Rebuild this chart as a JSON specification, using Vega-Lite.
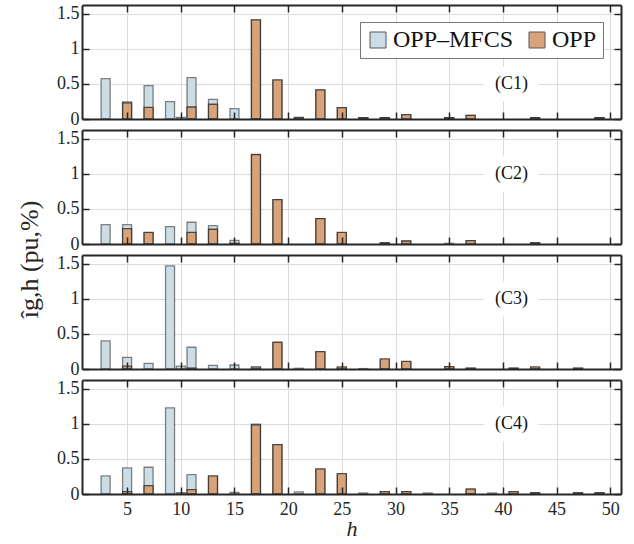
{
  "$schema": "https://vega.github.io/schema/vega-lite/v6.json",
  "background": "white",
  "padding": {"left": 16, "top": 4, "right": 2, "bottom": 0},
  "bounds": "flush",
  "spacing": 11,
  "datasets": {
    "bars": [
      {"c": "C1", "s": "OPP–MFCS", "h": 3, "v": 0.576},
      {"c": "C1", "s": "OPP–MFCS", "h": 5, "v": 0.243},
      {"c": "C1", "s": "OPP–MFCS", "h": 7, "v": 0.476},
      {"c": "C1", "s": "OPP–MFCS", "h": 9, "v": 0.248},
      {"c": "C1", "s": "OPP–MFCS", "h": 10, "v": 0.024},
      {"c": "C1", "s": "OPP–MFCS", "h": 11, "v": 0.59},
      {"c": "C1", "s": "OPP–MFCS", "h": 13, "v": 0.281},
      {"c": "C1", "s": "OPP–MFCS", "h": 15, "v": 0.148},
      {"c": "C1", "s": "OPP–MFCS", "h": 17, "v": 1.41},
      {"c": "C1", "s": "OPP–MFCS", "h": 19, "v": 0.55},
      {"c": "C1", "s": "OPP–MFCS", "h": 21, "v": 0.02},
      {"c": "C1", "s": "OPP–MFCS", "h": 23, "v": 0.41},
      {"c": "C1", "s": "OPP–MFCS", "h": 25, "v": 0.16},
      {"c": "C1", "s": "OPP–MFCS", "h": 27, "v": 0.02},
      {"c": "C1", "s": "OPP–MFCS", "h": 29, "v": 0.02},
      {"c": "C1", "s": "OPP–MFCS", "h": 31, "v": 0.06},
      {"c": "C1", "s": "OPP–MFCS", "h": 35, "v": 0.02},
      {"c": "C1", "s": "OPP–MFCS", "h": 37, "v": 0.05},
      {"c": "C1", "s": "OPP–MFCS", "h": 43, "v": 0.02},
      {"c": "C1", "s": "OPP–MFCS", "h": 49, "v": 0.02},
      {"c": "C1", "s": "OPP", "h": 5, "v": 0.229},
      {"c": "C1", "s": "OPP", "h": 7, "v": 0.167},
      {"c": "C1", "s": "OPP", "h": 11, "v": 0.171},
      {"c": "C1", "s": "OPP", "h": 13, "v": 0.21},
      {"c": "C1", "s": "OPP", "h": 17, "v": 1.414},
      {"c": "C1", "s": "OPP", "h": 19, "v": 0.557},
      {"c": "C1", "s": "OPP", "h": 21, "v": 0.024},
      {"c": "C1", "s": "OPP", "h": 23, "v": 0.414},
      {"c": "C1", "s": "OPP", "h": 25, "v": 0.162},
      {"c": "C1", "s": "OPP", "h": 27, "v": 0.02},
      {"c": "C1", "s": "OPP", "h": 29, "v": 0.02},
      {"c": "C1", "s": "OPP", "h": 31, "v": 0.062},
      {"c": "C1", "s": "OPP", "h": 35, "v": 0.02},
      {"c": "C1", "s": "OPP", "h": 37, "v": 0.052},
      {"c": "C1", "s": "OPP", "h": 43, "v": 0.02},
      {"c": "C1", "s": "OPP", "h": 49, "v": 0.02},
      {"c": "C2", "s": "OPP–MFCS", "h": 3, "v": 0.276},
      {"c": "C2", "s": "OPP–MFCS", "h": 5, "v": 0.276},
      {"c": "C2", "s": "OPP–MFCS", "h": 7, "v": 0.16},
      {"c": "C2", "s": "OPP–MFCS", "h": 9, "v": 0.248},
      {"c": "C2", "s": "OPP–MFCS", "h": 11, "v": 0.31},
      {"c": "C2", "s": "OPP–MFCS", "h": 13, "v": 0.262},
      {"c": "C2", "s": "OPP–MFCS", "h": 15, "v": 0.052},
      {"c": "C2", "s": "OPP–MFCS", "h": 17, "v": 1.27},
      {"c": "C2", "s": "OPP–MFCS", "h": 19, "v": 0.63},
      {"c": "C2", "s": "OPP–MFCS", "h": 23, "v": 0.36},
      {"c": "C2", "s": "OPP–MFCS", "h": 25, "v": 0.16},
      {"c": "C2", "s": "OPP–MFCS", "h": 29, "v": 0.02},
      {"c": "C2", "s": "OPP–MFCS", "h": 31, "v": 0.04},
      {"c": "C2", "s": "OPP–MFCS", "h": 35, "v": 0.01},
      {"c": "C2", "s": "OPP–MFCS", "h": 37, "v": 0.045},
      {"c": "C2", "s": "OPP–MFCS", "h": 43, "v": 0.02},
      {"c": "C2", "s": "OPP", "h": 5, "v": 0.219},
      {"c": "C2", "s": "OPP", "h": 7, "v": 0.167},
      {"c": "C2", "s": "OPP", "h": 11, "v": 0.167},
      {"c": "C2", "s": "OPP", "h": 13, "v": 0.21},
      {"c": "C2", "s": "OPP", "h": 15, "v": 0.01},
      {"c": "C2", "s": "OPP", "h": 17, "v": 1.276},
      {"c": "C2", "s": "OPP", "h": 19, "v": 0.633},
      {"c": "C2", "s": "OPP", "h": 23, "v": 0.362},
      {"c": "C2", "s": "OPP", "h": 25, "v": 0.167},
      {"c": "C2", "s": "OPP", "h": 29, "v": 0.015},
      {"c": "C2", "s": "OPP", "h": 31, "v": 0.043},
      {"c": "C2", "s": "OPP", "h": 37, "v": 0.048},
      {"c": "C2", "s": "OPP", "h": 43, "v": 0.015},
      {"c": "C3", "s": "OPP–MFCS", "h": 3, "v": 0.4},
      {"c": "C3", "s": "OPP–MFCS", "h": 5, "v": 0.167},
      {"c": "C3", "s": "OPP–MFCS", "h": 7, "v": 0.081},
      {"c": "C3", "s": "OPP–MFCS", "h": 9, "v": 1.471},
      {"c": "C3", "s": "OPP–MFCS", "h": 10, "v": 0.04},
      {"c": "C3", "s": "OPP–MFCS", "h": 11, "v": 0.31},
      {"c": "C3", "s": "OPP–MFCS", "h": 13, "v": 0.052},
      {"c": "C3", "s": "OPP–MFCS", "h": 15, "v": 0.057},
      {"c": "C3", "s": "OPP–MFCS", "h": 17, "v": 0.02},
      {"c": "C3", "s": "OPP–MFCS", "h": 19, "v": 0.37},
      {"c": "C3", "s": "OPP–MFCS", "h": 21, "v": 0.01},
      {"c": "C3", "s": "OPP–MFCS", "h": 23, "v": 0.24},
      {"c": "C3", "s": "OPP–MFCS", "h": 25, "v": 0.02},
      {"c": "C3", "s": "OPP–MFCS", "h": 27, "v": 0.006},
      {"c": "C3", "s": "OPP–MFCS", "h": 29, "v": 0.13},
      {"c": "C3", "s": "OPP–MFCS", "h": 31, "v": 0.1},
      {"c": "C3", "s": "OPP–MFCS", "h": 35, "v": 0.03},
      {"c": "C3", "s": "OPP–MFCS", "h": 37, "v": 0.014},
      {"c": "C3", "s": "OPP–MFCS", "h": 41, "v": 0.014},
      {"c": "C3", "s": "OPP–MFCS", "h": 43, "v": 0.02},
      {"c": "C3", "s": "OPP–MFCS", "h": 47, "v": 0.014},
      {"c": "C3", "s": "OPP", "h": 5, "v": 0.04},
      {"c": "C3", "s": "OPP", "h": 11, "v": 0.014},
      {"c": "C3", "s": "OPP", "h": 17, "v": 0.029},
      {"c": "C3", "s": "OPP", "h": 19, "v": 0.381},
      {"c": "C3", "s": "OPP", "h": 23, "v": 0.248},
      {"c": "C3", "s": "OPP", "h": 25, "v": 0.03},
      {"c": "C3", "s": "OPP", "h": 29, "v": 0.143},
      {"c": "C3", "s": "OPP", "h": 31, "v": 0.11},
      {"c": "C3", "s": "OPP", "h": 35, "v": 0.033},
      {"c": "C3", "s": "OPP", "h": 37, "v": 0.01},
      {"c": "C3", "s": "OPP", "h": 41, "v": 0.01},
      {"c": "C3", "s": "OPP", "h": 43, "v": 0.029},
      {"c": "C3", "s": "OPP", "h": 47, "v": 0.01},
      {"c": "C4", "s": "OPP–MFCS", "h": 3, "v": 0.257},
      {"c": "C4", "s": "OPP–MFCS", "h": 5, "v": 0.371},
      {"c": "C4", "s": "OPP–MFCS", "h": 7, "v": 0.381},
      {"c": "C4", "s": "OPP–MFCS", "h": 9, "v": 1.229},
      {"c": "C4", "s": "OPP–MFCS", "h": 10, "v": 0.02},
      {"c": "C4", "s": "OPP–MFCS", "h": 11, "v": 0.276},
      {"c": "C4", "s": "OPP–MFCS", "h": 13, "v": 0.25},
      {"c": "C4", "s": "OPP–MFCS", "h": 15, "v": 0.024},
      {"c": "C4", "s": "OPP–MFCS", "h": 17, "v": 0.995},
      {"c": "C4", "s": "OPP–MFCS", "h": 19, "v": 0.7},
      {"c": "C4", "s": "OPP–MFCS", "h": 21, "v": 0.029},
      {"c": "C4", "s": "OPP–MFCS", "h": 23, "v": 0.35},
      {"c": "C4", "s": "OPP–MFCS", "h": 25, "v": 0.28},
      {"c": "C4", "s": "OPP–MFCS", "h": 27, "v": 0.014},
      {"c": "C4", "s": "OPP–MFCS", "h": 29, "v": 0.03},
      {"c": "C4", "s": "OPP–MFCS", "h": 31, "v": 0.03},
      {"c": "C4", "s": "OPP–MFCS", "h": 33, "v": 0.014},
      {"c": "C4", "s": "OPP–MFCS", "h": 37, "v": 0.06},
      {"c": "C4", "s": "OPP–MFCS", "h": 39, "v": 0.014},
      {"c": "C4", "s": "OPP–MFCS", "h": 41, "v": 0.03},
      {"c": "C4", "s": "OPP–MFCS", "h": 43, "v": 0.02},
      {"c": "C4", "s": "OPP–MFCS", "h": 47, "v": 0.02},
      {"c": "C4", "s": "OPP–MFCS", "h": 49, "v": 0.02},
      {"c": "C4", "s": "OPP", "h": 5, "v": 0.033},
      {"c": "C4", "s": "OPP", "h": 7, "v": 0.119},
      {"c": "C4", "s": "OPP", "h": 11, "v": 0.062},
      {"c": "C4", "s": "OPP", "h": 13, "v": 0.257},
      {"c": "C4", "s": "OPP", "h": 17, "v": 0.986},
      {"c": "C4", "s": "OPP", "h": 19, "v": 0.705},
      {"c": "C4", "s": "OPP", "h": 23, "v": 0.357},
      {"c": "C4", "s": "OPP", "h": 25, "v": 0.29},
      {"c": "C4", "s": "OPP", "h": 29, "v": 0.033},
      {"c": "C4", "s": "OPP", "h": 31, "v": 0.033},
      {"c": "C4", "s": "OPP", "h": 37, "v": 0.071},
      {"c": "C4", "s": "OPP", "h": 41, "v": 0.033},
      {"c": "C4", "s": "OPP", "h": 43, "v": 0.015},
      {"c": "C4", "s": "OPP", "h": 47, "v": 0.015},
      {"c": "C4", "s": "OPP", "h": 49, "v": 0.015}
    ]
  },
  "config": {
    "view": {"stroke": null},
    "font": "Liberation Serif",
    "scale": {"continuousPadding": 0},
    "axis": {
      "labelFont": "Liberation Serif", "labelFontSize": 18, "labelColor": "#262626",
      "titleFont": "Liberation Serif", "titleFontWeight": "normal", "titleColor": "#262626",
      "domainColor": "#262626", "domainWidth": 2,
      "tickColor": "#262626", "tickWidth": 1.5, "tickSize": -7,
      "gridColor": "#dcdcdc", "gridWidth": 1, "gridOpacity": 1
    },
    "legend": {
      "orient": "none", "legendX": 278, "legendY": 17, "direction": "horizontal",
      "symbolType": "square", "symbolSize": 256, "symbolStrokeColor": "#555", "symbolStrokeWidth": 1,
      "labelFont": "Liberation Serif", "labelFontSize": 24, "labelColor": "#111", "labelLimit": 300,
      "fillColor": "white", "strokeColor": "#777", "padding": 6, "columnPadding": 11, "labelOffset": 3
    }
  },
  "vconcat": [
    {
      "width": 539, "height": 114,
      "resolve": {"axis": {"x": "independent", "y": "independent"}},
      "layer": [
        {"data": {"values": [{}]}, "mark": {"type": "rect", "fill": "white"},
         "encoding": {
           "x": {"datum": 38.3, "type": "quantitative", "scale": {"domain": [0.8, 51], "nice": false, "zero": false, "padding": 0}, "axis": {"orient": "top", "values": [5,10,15,20,25,30,35,40,45,50], "labels": false, "title": null, "grid": true, "zindex": 0}},
           "x2": {"datum": 43.3},
           "y": {"datum": 0.25, "type": "quantitative", "scale": {"domain": [0, 1.625], "nice": false, "padding": 0}, "axis": {"orient": "right", "values": [0, 0.5, 1, 1.5], "labels": false, "title": null, "grid": true, "zindex": 0}},
           "y2": {"datum": 0.75}
         }},
        {"data": {"name": "bars"}, "transform": [{"filter": "datum.c === 'C1' && datum.s === 'OPP–MFCS'"}],
         "mark": {"type": "bar", "orient": "vertical", "size": 9, "stroke": "#333", "strokeOpacity": 0.6, "strokeWidth": 1.3},
         "encoding": {
           "x": {"field": "h", "type": "quantitative", "scale": {"domain": [0.8, 51], "nice": false, "zero": false, "padding": 0}, "axis": {"orient": "bottom", "values": [5,10,15,20,25,30,35,40,45,50], "labels": false, "title": null, "grid": false, "zindex": 1}},
           "y": {"field": "v", "type": "quantitative", "stack": null, "scale": {"domain": [0, 1.625], "nice": false, "padding": 0}, "axis": {"orient": "left", "values": [0, 0.5, 1, 1.5], "format": "~g", "labelPadding": 10, "title": null, "grid": false, "zindex": 1}},
           "color": {"field": "s", "type": "nominal", "scale": {"domain": ["OPP–MFCS", "OPP"], "range": ["#cddde7", "#d8a379"]}, "legend": {"title": null}}
         }},
        {"data": {"name": "bars"}, "transform": [{"filter": "datum.c === 'C1' && datum.s === 'OPP'"}],
         "mark": {"type": "bar", "orient": "vertical", "size": 9, "stroke": "#222", "strokeOpacity": 0.75, "strokeWidth": 1.3},
         "encoding": {
           "x": {"field": "h", "type": "quantitative", "axis": null},
           "y": {"field": "v", "type": "quantitative", "stack": null, "axis": null},
           "color": {"field": "s", "type": "nominal", "legend": {"title": null}}
         }},
        {"data": {"values": [{}]}, "mark": {"type": "text", "fontSize": 18, "font": "Liberation Serif", "color": "#111"},
         "encoding": {"x": {"datum": 40.8, "type": "quantitative", "axis": null}, "y": {"datum": 0.5, "type": "quantitative", "axis": null}, "text": {"value": "(C1)"}}}
      ]
    },
    {
      "width": 539, "height": 114,
      "resolve": {"axis": {"x": "independent", "y": "independent"}},
      "layer": [
        {"data": {"values": [{}]}, "mark": {"type": "rect", "fill": "white"},
         "encoding": {
           "x": {"datum": 38.3, "type": "quantitative", "scale": {"domain": [0.8, 51], "nice": false, "zero": false, "padding": 0}, "axis": {"orient": "top", "values": [5,10,15,20,25,30,35,40,45,50], "labels": false, "title": null, "grid": true, "zindex": 0}},
           "x2": {"datum": 43.3},
           "y": {"datum": 0.75, "type": "quantitative", "scale": {"domain": [0, 1.625], "nice": false, "padding": 0}, "axis": {"orient": "right", "values": [0, 0.5, 1, 1.5], "labels": false, "title": null, "grid": true, "zindex": 0}},
           "y2": {"datum": 1.25}
         }},
        {"data": {"name": "bars"}, "transform": [{"filter": "datum.c === 'C2' && datum.s === 'OPP–MFCS'"}],
         "mark": {"type": "bar", "orient": "vertical", "size": 9, "stroke": "#333", "strokeOpacity": 0.6, "strokeWidth": 1.3},
         "encoding": {
           "x": {"field": "h", "type": "quantitative", "scale": {"domain": [0.8, 51], "nice": false, "zero": false, "padding": 0}, "axis": {"orient": "bottom", "values": [5,10,15,20,25,30,35,40,45,50], "labels": false, "title": null, "grid": false, "zindex": 1}},
           "y": {"field": "v", "type": "quantitative", "stack": null, "scale": {"domain": [0, 1.625], "nice": false, "padding": 0}, "axis": {"orient": "left", "values": [0, 0.5, 1, 1.5], "format": "~g", "labelPadding": 10, "grid": false, "zindex": 1, "title": "îg,h  (pu,%)", "titleFontSize": 26, "titleX": -53, "titleY": 129, "titleAngle": 270, "titleAlign": "center", "titleBaseline": "middle"}},
           "color": {"field": "s", "type": "nominal", "scale": {"domain": ["OPP–MFCS", "OPP"], "range": ["#cddde7", "#d8a379"]}, "legend": {"title": null}}
         }},
        {"data": {"name": "bars"}, "transform": [{"filter": "datum.c === 'C2' && datum.s === 'OPP'"}],
         "mark": {"type": "bar", "orient": "vertical", "size": 9, "stroke": "#222", "strokeOpacity": 0.75, "strokeWidth": 1.3},
         "encoding": {
           "x": {"field": "h", "type": "quantitative", "axis": null},
           "y": {"field": "v", "type": "quantitative", "stack": null, "axis": null},
           "color": {"field": "s", "type": "nominal", "legend": {"title": null}}
         }},
        {"data": {"values": [{}]}, "mark": {"type": "text", "fontSize": 18, "font": "Liberation Serif", "color": "#111"},
         "encoding": {"x": {"datum": 40.8, "type": "quantitative", "axis": null}, "y": {"datum": 1, "type": "quantitative", "axis": null}, "text": {"value": "(C2)"}}}
      ]
    },
    {
      "width": 539, "height": 114,
      "resolve": {"axis": {"x": "independent", "y": "independent"}},
      "layer": [
        {"data": {"values": [{}]}, "mark": {"type": "rect", "fill": "white"},
         "encoding": {
           "x": {"datum": 38.3, "type": "quantitative", "scale": {"domain": [0.8, 51], "nice": false, "zero": false, "padding": 0}, "axis": {"orient": "top", "values": [5,10,15,20,25,30,35,40,45,50], "labels": false, "title": null, "grid": true, "zindex": 0}},
           "x2": {"datum": 43.3},
           "y": {"datum": 0.75, "type": "quantitative", "scale": {"domain": [0, 1.625], "nice": false, "padding": 0}, "axis": {"orient": "right", "values": [0, 0.5, 1, 1.5], "labels": false, "title": null, "grid": true, "zindex": 0}},
           "y2": {"datum": 1.25}
         }},
        {"data": {"name": "bars"}, "transform": [{"filter": "datum.c === 'C3' && datum.s === 'OPP–MFCS'"}],
         "mark": {"type": "bar", "orient": "vertical", "size": 9, "stroke": "#333", "strokeOpacity": 0.6, "strokeWidth": 1.3},
         "encoding": {
           "x": {"field": "h", "type": "quantitative", "scale": {"domain": [0.8, 51], "nice": false, "zero": false, "padding": 0}, "axis": {"orient": "bottom", "values": [5,10,15,20,25,30,35,40,45,50], "labels": false, "title": null, "grid": false, "zindex": 1}},
           "y": {"field": "v", "type": "quantitative", "stack": null, "scale": {"domain": [0, 1.625], "nice": false, "padding": 0}, "axis": {"orient": "left", "values": [0, 0.5, 1, 1.5], "format": "~g", "labelPadding": 10, "title": null, "grid": false, "zindex": 1}},
           "color": {"field": "s", "type": "nominal", "scale": {"domain": ["OPP–MFCS", "OPP"], "range": ["#cddde7", "#d8a379"]}, "legend": {"title": null}}
         }},
        {"data": {"name": "bars"}, "transform": [{"filter": "datum.c === 'C3' && datum.s === 'OPP'"}],
         "mark": {"type": "bar", "orient": "vertical", "size": 9, "stroke": "#222", "strokeOpacity": 0.75, "strokeWidth": 1.3},
         "encoding": {
           "x": {"field": "h", "type": "quantitative", "axis": null},
           "y": {"field": "v", "type": "quantitative", "stack": null, "axis": null},
           "color": {"field": "s", "type": "nominal", "legend": {"title": null}}
         }},
        {"data": {"values": [{}]}, "mark": {"type": "text", "fontSize": 18, "font": "Liberation Serif", "color": "#111"},
         "encoding": {"x": {"datum": 40.8, "type": "quantitative", "axis": null}, "y": {"datum": 1, "type": "quantitative", "axis": null}, "text": {"value": "(C3)"}}}
      ]
    },
    {
      "width": 539, "height": 114,
      "resolve": {"axis": {"x": "independent", "y": "independent"}},
      "layer": [
        {"data": {"values": [{}]}, "mark": {"type": "rect", "fill": "white"},
         "encoding": {
           "x": {"datum": 38.3, "type": "quantitative", "scale": {"domain": [0.8, 51], "nice": false, "zero": false, "padding": 0}, "axis": {"orient": "top", "values": [5,10,15,20,25,30,35,40,45,50], "labels": false, "title": null, "grid": true, "zindex": 0}},
           "x2": {"datum": 43.3},
           "y": {"datum": 0.75, "type": "quantitative", "scale": {"domain": [0, 1.625], "nice": false, "padding": 0}, "axis": {"orient": "right", "values": [0, 0.5, 1, 1.5], "labels": false, "title": null, "grid": true, "zindex": 0}},
           "y2": {"datum": 1.25}
         }},
        {"data": {"name": "bars"}, "transform": [{"filter": "datum.c === 'C4' && datum.s === 'OPP–MFCS'"}],
         "mark": {"type": "bar", "orient": "vertical", "size": 9, "stroke": "#333", "strokeOpacity": 0.6, "strokeWidth": 1.3},
         "encoding": {
           "x": {"field": "h", "type": "quantitative", "scale": {"domain": [0.8, 51], "nice": false, "zero": false, "padding": 0}, "axis": {"orient": "bottom", "values": [5,10,15,20,25,30,35,40,45,50], "labels": true, "labelPadding": 13, "title": "h", "titleFontSize": 22, "titleFontStyle": "italic", "titlePadding": 0, "grid": false, "zindex": 1}},
           "y": {"field": "v", "type": "quantitative", "stack": null, "scale": {"domain": [0, 1.625], "nice": false, "padding": 0}, "axis": {"orient": "left", "values": [0, 0.5, 1, 1.5], "format": "~g", "labelPadding": 10, "title": null, "grid": false, "zindex": 1}},
           "color": {"field": "s", "type": "nominal", "scale": {"domain": ["OPP–MFCS", "OPP"], "range": ["#cddde7", "#d8a379"]}, "legend": {"title": null}}
         }},
        {"data": {"name": "bars"}, "transform": [{"filter": "datum.c === 'C4' && datum.s === 'OPP'"}],
         "mark": {"type": "bar", "orient": "vertical", "size": 9, "stroke": "#222", "strokeOpacity": 0.75, "strokeWidth": 1.3},
         "encoding": {
           "x": {"field": "h", "type": "quantitative", "axis": null},
           "y": {"field": "v", "type": "quantitative", "stack": null, "axis": null},
           "color": {"field": "s", "type": "nominal", "legend": {"title": null}}
         }},
        {"data": {"values": [{}]}, "mark": {"type": "text", "fontSize": 18, "font": "Liberation Serif", "color": "#111"},
         "encoding": {"x": {"datum": 40.8, "type": "quantitative", "axis": null}, "y": {"datum": 1, "type": "quantitative", "axis": null}, "text": {"value": "(C4)"}}}
      ]
    }
  ]
}
